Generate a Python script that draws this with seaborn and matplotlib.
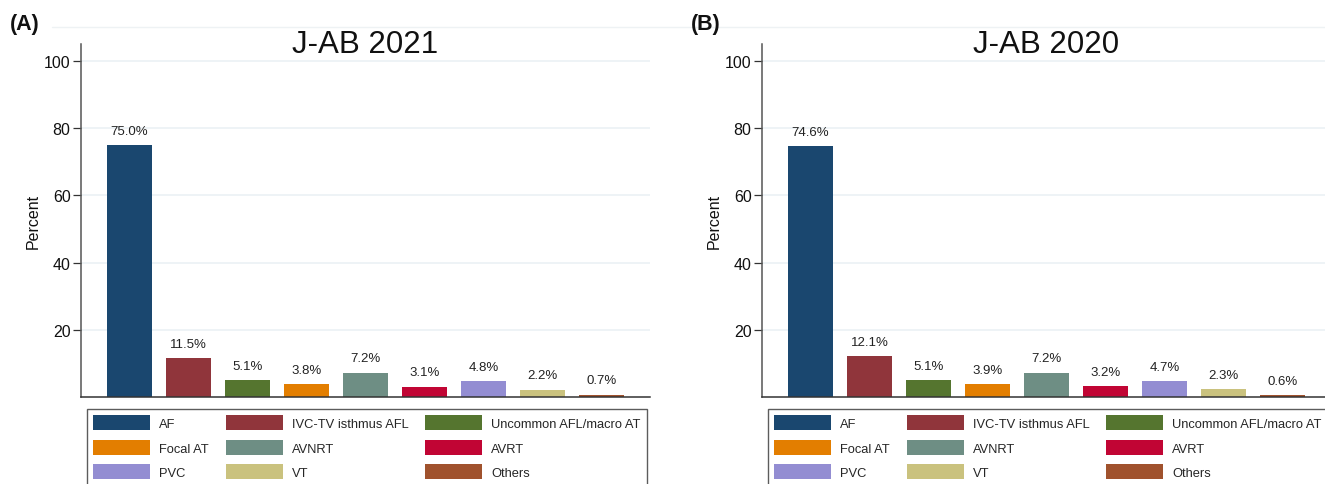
import matplotlib
matplotlib.use("Agg")
import matplotlib.pyplot as plt
from matplotlib.patches import Patch
from matplotlib.lines import Line2D
import seaborn as sns
import pandas as pd

# Ablation procedure categories and their share (%) in each registry year
categories = ["AF", "IVC-TV isthmus AFL", "Uncommon AFL/macro AT", "Focal AT",
              "AVNRT", "AVRT", "PVC", "VT", "Others"]
pct_2021 = [75.0, 11.5, 5.1, 3.8, 7.2, 3.1, 4.8, 2.2, 0.7]
pct_2020 = [74.6, 12.1, 5.1, 3.9, 7.2, 3.2, 4.7, 2.3, 0.6]
colors = ["#1a476f", "#90353b", "#55752f", "#e37e00", "#6e8e84",
          "#c10534", "#938dd2", "#cac27e", "#a0522d"]
y_ticks = [20, 40, 60, 80, 100]
panels = [("(A)", "J-AB 2021", pct_2021), ("(B)", "J-AB 2020", pct_2020)]

sns.set_theme(style="white")
plt.rcParams["font.family"] = ["Liberation Sans", "DejaVu Sans"]

W, H = 1325, 485
fig = plt.figure(figsize=(W / 100, H / 100), dpi=100)
palette = dict(zip(categories, colors))

# legend is filled column by column; reorder so entries read across rows
ncol = 3
nrow = 3
leg_order = [r * ncol + c for c in range(ncol) for r in range(nrow)]

lefts = [81, 762]
for (tag, title, vals), left_px in zip(panels, lefts):
    ax = fig.add_axes([left_px / W, (H - 398) / H, 569 / W, 353 / H])
    df = pd.DataFrame({"cat": categories, "pct": vals})
    sns.barplot(data=df, x="cat", y="pct", hue="cat", palette=palette,
                order=categories, hue_order=categories, legend=False,
                width=0.76, saturation=1, ax=ax, linewidth=0)
    for cont in ax.containers:
        ax.bar_label(cont, fmt="%.1f%%", padding=6, fontsize=9.5, color="#222222")
    ax.set_xlim(-0.82, 8.82)
    ax.set_ylim(0, 105)
    ax.set_yticks(y_ticks)
    ax.set_xticks([])
    ax.set_xlabel("")
    ax.set_ylabel("Percent", fontsize=11.5, color="#111111", labelpad=2.5)
    ax.tick_params(axis="y", left=True, length=6, width=0.9, color="#333333",
                   labelsize=11.5, pad=1.5, labelcolor="#111111")
    ax.grid(axis="y", color="#eaf0f4", linewidth=1.1)
    ax.set_axisbelow(True)
    for s in ("top", "right"):
        ax.spines[s].set_visible(False)
    ax.spines["left"].set_color("#555555")
    ax.spines["left"].set_linewidth(1.1)
    ax.spines["bottom"].set_color("#333333")
    ax.spines["bottom"].set_linewidth(1.1)

    ax.text(0.5, (398 - 53) / 353, title, transform=ax.transAxes,
            ha="center", va="baseline", fontsize=22.5, color="#111111")
    fig.text((left_px - 71) / W, (H - 30) / H, tag, ha="left", va="baseline",
             fontsize=15.5, fontweight="bold", color="#111111")

    handles = [Patch(facecolor=c, edgecolor="none", label=l)
               for l, c in zip(categories, colors)]
    handles = [handles[i] for i in leg_order]
    leg = ax.legend(handles=handles, ncol=ncol, loc="upper left",
                    bbox_to_anchor=(6 / 569, -12 / 353), borderaxespad=0,
                    fontsize=9.3, frameon=True, fancybox=False,
                    handlelength=4.4, handleheight=1.4, handletextpad=0.7,
                    columnspacing=1.3, labelspacing=0.74, borderpad=0.5)
    leg.get_frame().set_edgecolor("#333333")
    leg.get_frame().set_linewidth(1.0)

# faint outer frame line along the top of both graph regions
fig.add_artist(Line2D([52 / W, 1.0], [(H - 28) / H] * 2, color="#eef2f4",
                      linewidth=1.0, transform=fig.transFigure))

fig.savefig("out.png", dpi=100)
